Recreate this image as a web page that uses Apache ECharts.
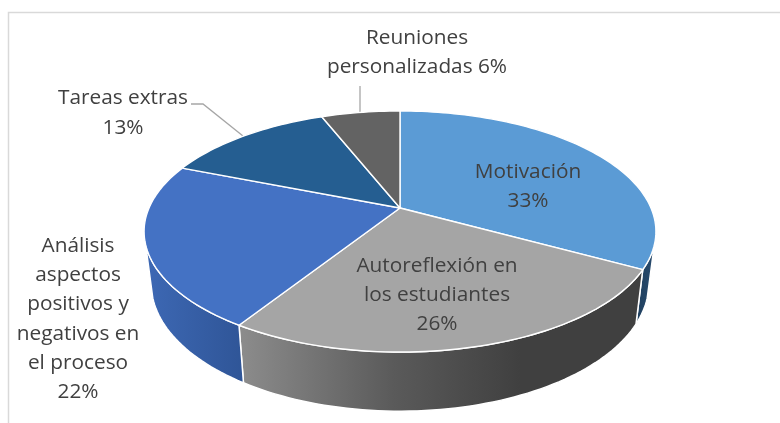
<!DOCTYPE html>
<html>
<head>
<meta charset="utf-8">
<style>html,body{margin:0;padding:0;background:#fff}#c{width:780px;height:423px}</style>
<script src="https://cdn.jsdelivr.net/npm/echarts@6/dist/echarts.min.js"></script>
</head>
<body>
<div id="c"></div>
<script>
const categories = ["Motivación", "Autoreflexión en los estudiantes", "Análisis aspectos positivos y negativos en el proceso", "Tareas extras", "Reuniones personalizadas"];
const values = [33, 26, 22, 13, 6];
const labelTemplates = ["Motivación\n{v}%", "Autoreflexión en\nlos estudiantes\n{v}%", "Análisis\naspectos\npositivos y\nnegativos en\nel proceso\n{v}%", "Tareas extras\n{v}%", "Reuniones\npersonalizadas {v}%"];
const topColors = ["#5b9bd5", "#a5a5a5", "#4472c4", "#255e91", "#636363"];

// Perspective disc model: y=(a+b cos)/(1+p cos), x=cx+c sin/(1+p cos)
const CX = 400, P = 0.195, TOP = {a: 208, b: -75.4, c: 251}, BOTTOM = {a: 259, b: -72, c: 244};
const WALL_FROM = 107.5, WALL_TO = 252.5;
const labelPos = [[528, 186.5], [437, 295], [78, 319], [123, 113], [417, 52.5]];
const LINE_H = 29.3;
const leaders = [[[360, 86], [360, 112]], [[191, 104], [203, 104], [243, 136]]];

const total = values.reduce((s, v) => s + v, 0);
const startDeg = values.map((_, i) => values.slice(0, i).reduce((s, v) => s + v, 0) / total * 360);
const endDeg = values.map((v, i) => startDeg[i] + v / total * 360);

function project(m, deg) {
  const t = deg * Math.PI / 180, w = 1 + P * Math.cos(t);
  return [CX + m.c * Math.sin(t) / w, (m.a + m.b * Math.cos(t)) / w];
}
function arc(m, from, to) {
  const n = Math.max(2, Math.ceil(Math.abs(to - from) / 1.5)), pts = [];
  for (let i = 0; i <= n; i++) pts.push(project(m, from + (to - from) * i / n));
  return pts;
}
function grad(x0, x1, stops) {
  return {type: 'linear', x: x0, y: 0, x2: x1, y2: 0, global: true,
    colorStops: stops.map(s => ({offset: s[0], color: s[1]}))};
}
const wallFills = [
  grad(636, 656, [[0, '#1f3f5e'], [1, '#2a4d70']]),
  grad(240, 520, [[0, '#8c8c8c'], [0.55, '#5a5a5a'], [1, '#404040']]),
  grad(146, 244, [[0, '#3d68b4'], [1, '#2f5597']])
];

const option = {
  animation: false,
  backgroundColor: '#fff',
  graphic: [
    {type: 'polyline', shape: {points: [[8.5, 423], [8.5, 12.5], [780, 12.5]]}, style: {stroke: '#d9d9d9', lineWidth: 1.5, fill: null}, silent: true}
  ],
  series: [
    {
      type: 'custom', coordinateSystem: 'none', z: 1, silent: true,
      data: values.map((v, i) => ({name: categories[i], value: v})),
      renderItem(params) {
        const i = params.dataIndex;
        const a = Math.max(startDeg[i], WALL_FROM), b = Math.min(endDeg[i], WALL_TO);
        if (b <= a) return {type: 'group', children: []};
        const pts = arc(TOP, a, b).concat(arc(BOTTOM, b, a));
        return {type: 'polygon', shape: {points: pts}, style: {fill: wallFills[i] || '#888', stroke: '#fff', lineWidth: 1.5, lineJoin: 'round'}};
      }
    },
    {
      type: 'custom', coordinateSystem: 'none', z: 2, silent: true,
      data: values.map((v, i) => ({name: categories[i], value: v})),
      renderItem(params) {
        const i = params.dataIndex;
        const pts = [[CX, TOP.a]].concat(arc(TOP, startDeg[i], endDeg[i]));
        return {type: 'polygon', shape: {points: pts}, style: {fill: topColors[i], stroke: '#fff', lineWidth: 1.4, lineJoin: 'round'}};
      }
    },
    {
      type: 'custom', coordinateSystem: 'none', z: 3, silent: true,
      data: values.map((v, i) => ({name: categories[i], value: v})),
      renderItem(params) {
        const i = params.dataIndex;
        return {type: 'text', style: {
          text: labelTemplates[i].replace('{v}', values[i]), x: labelPos[i][0], y: labelPos[i][1],
          align: 'center', verticalAlign: 'middle', fill: '#404040',
          font: '400 20.8px "Open Sans"', lineHeight: LINE_H
        }};
      }
    },
    {
      type: 'custom', coordinateSystem: 'none', z: 0, silent: true,
      data: leaders.map((_, i) => i),
      renderItem(params) {
        return {type: 'polyline', shape: {points: leaders[params.dataIndex]}, style: {stroke: '#a6a6a6', lineWidth: 1.3, fill: null}};
      }
    }
  ]
};
const chart = echarts.init(document.getElementById('c'), null, {renderer: 'canvas', width: 780, height: 423});
chart.setOption(option);
</script>
</body>
</html>
